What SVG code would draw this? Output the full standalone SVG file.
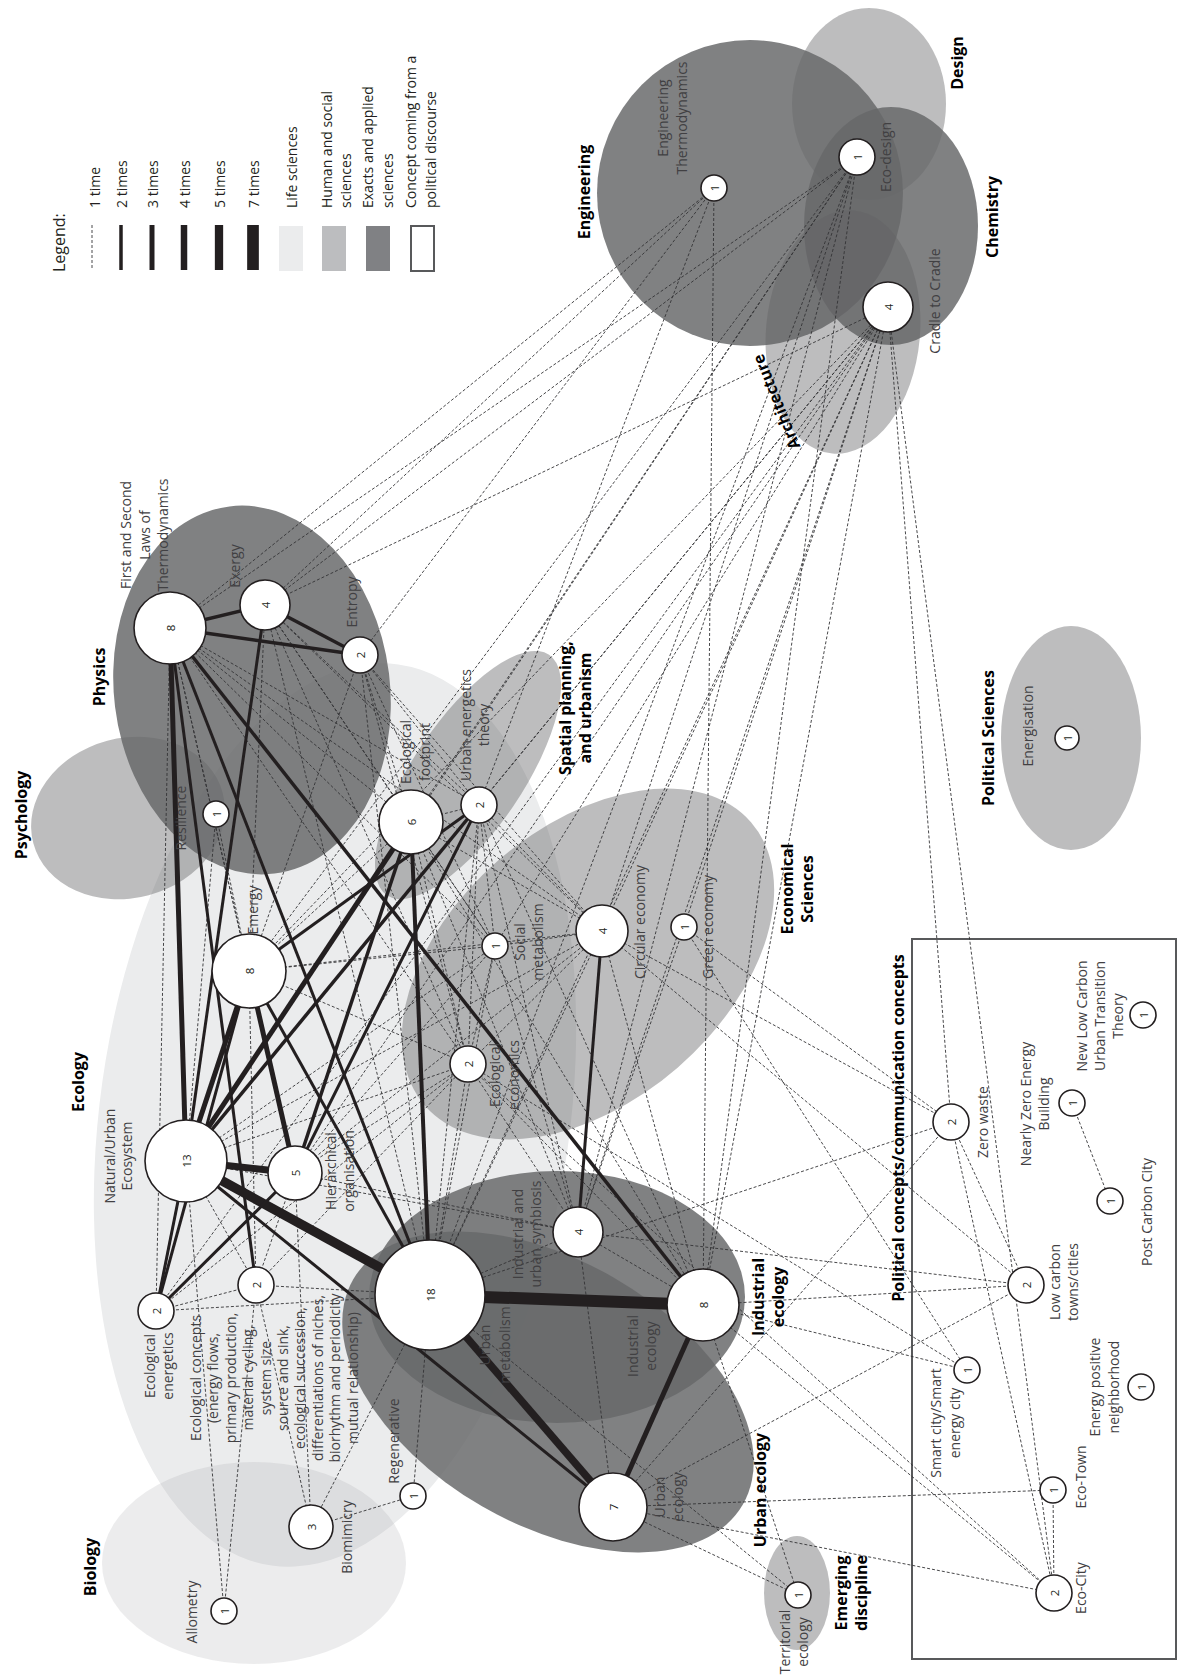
<svg xmlns="http://www.w3.org/2000/svg" width="1177" height="1675" viewBox="0 0 1177 1675">
<style>
.lbl{font-family:'Open Sans','Noto Sans',sans-serif;font-size:14px;fill:#414042;text-anchor:middle}
.dis{font-family:'Open Sans','Noto Sans',sans-serif;font-size:16px;font-weight:700;fill:#000;text-anchor:middle}
.lgt{font-family:'Open Sans','Noto Sans',sans-serif;font-size:14px;fill:#231f20;text-anchor:start}
.num{font-family:'Open Sans','Noto Sans',sans-serif;font-size:11.5px;fill:#231f20;text-anchor:middle;dominant-baseline:central}
.nd{fill:#fff;stroke:#231f20;stroke-width:1.6}
.d{stroke:#333335;stroke-width:0.9;stroke-dasharray:3 2;fill:none}
.s{stroke:#231f20;fill:none}
.dk{fill:#676869;fill-opacity:0.835}
.lg{fill:#616263;fill-opacity:0.42}
.lf{fill:#ebeced}
.bi{fill:#a5a6a8;fill-opacity:0.21}
</style>
<rect width="1177" height="1675" fill="#fff"/>

<g id="regions">
<ellipse class="lf" cx="335" cy="1115" rx="235" ry="455" transform="rotate(8 335 1115)"/>
<ellipse class="bi" cx="254" cy="1563" rx="152" ry="101"/>
<ellipse class="lg" cx="128" cy="818" rx="98" ry="80" transform="rotate(-15 128 818)"/>
<ellipse class="dk" cx="252" cy="690" rx="138" ry="185" transform="rotate(-7 252 690)"/>
<ellipse class="lg" cx="468" cy="775" rx="145" ry="55" transform="rotate(-56 468 775)"/>
<ellipse class="lg" cx="588" cy="964" rx="216" ry="137" transform="rotate(-41 588 964)"/>
<ellipse class="lg" cx="1071" cy="738" rx="70" ry="112"/>
<ellipse class="dk" cx="557" cy="1297" rx="188" ry="126"/>
<ellipse class="dk" cx="548" cy="1392" rx="225" ry="132" transform="rotate(30 548 1392)"/>
<ellipse class="lg" cx="797" cy="1593" rx="33" ry="57"/>
<ellipse class="lg" cx="869" cy="104" rx="77" ry="96"/>
<circle class="dk" cx="750" cy="193" r="153"/>
<ellipse class="dk" cx="891" cy="226" rx="87" ry="119"/>
<ellipse class="lg" cx="843" cy="332" rx="77" ry="122" transform="rotate(5 843 332)"/>
<rect x="912" y="939" width="264" height="720" fill="none" stroke="#58595b" stroke-width="2"/>
</g>

<g id="discipline-labels">
<text class="dis" transform="translate(590,192) rotate(-90)">Engineering</text>
<text class="dis" transform="translate(963,63) rotate(-90)">Design</text>
<text class="dis" transform="translate(998,217) rotate(-90)">Chemistry</text>
<text class="dis" dominant-baseline="central" transform="translate(776,402) rotate(-112)">Architecture</text>
<text class="dis" transform="translate(105,677) rotate(-90)">Physics</text>
<text class="dis" transform="translate(27,815) rotate(-90)">Psychology</text>
<text class="dis" transform="translate(571,708) rotate(-90)"><tspan x="0" y="0">Spatial planning,</tspan><tspan x="0" y="20">and urbanism</tspan></text>
<text class="dis" transform="translate(793,889) rotate(-90)"><tspan x="0" y="0">Economical</tspan><tspan x="0" y="20">Sciences</tspan></text>
<text class="dis" transform="translate(994,738) rotate(-90)">Political Sciences</text>
<text class="dis" transform="translate(84,1082) rotate(-90)">Ecology</text>
<text class="dis" transform="translate(96,1567) rotate(-90)">Biology</text>
<text class="dis" transform="translate(764,1297) rotate(-90)"><tspan x="0" y="0">Industrial</tspan><tspan x="0" y="20">ecology</tspan></text>
<text class="dis" transform="translate(766,1490) rotate(-90)">Urban ecology</text>
<text class="dis" transform="translate(847,1593) rotate(-90)"><tspan x="0" y="0">Emerging</tspan><tspan x="0" y="20">discipline</tspan></text>
<text class="dis" transform="translate(904,1128) rotate(-90)">Political concepts/communication concepts</text>
</g>

<g id="legend">
<text class="lgt" style="font-size:16px" transform="translate(65,272) rotate(-90)">Legend:</text>
<line class="d" x1="92" y1="225" x2="92" y2="270"/>
<line class="s" x1="121" y1="225" x2="121" y2="270" stroke-width="3.5"/>
<line class="s" x1="152" y1="225" x2="152" y2="270" stroke-width="5"/>
<line class="s" x1="184" y1="225" x2="184" y2="270" stroke-width="6.5"/>
<line class="s" x1="219" y1="225" x2="219" y2="270" stroke-width="8.3"/>
<line class="s" x1="253" y1="225" x2="253" y2="270" stroke-width="11.7"/>
<rect x="279" y="226" width="24" height="45" fill="#ebeced"/>
<rect x="322" y="226" width="24" height="45" fill="#bcbdbf"/>
<rect x="366" y="226" width="24" height="45" fill="#808184"/>
<rect x="411" y="226" width="23" height="45" fill="#fff" stroke="#58595b" stroke-width="2"/>
<text class="lgt" transform="translate(100,208) rotate(-90)">1 time</text>
<text class="lgt" transform="translate(127,208) rotate(-90)">2 times</text>
<text class="lgt" transform="translate(158,208) rotate(-90)">3 times</text>
<text class="lgt" transform="translate(190,208) rotate(-90)">4 times</text>
<text class="lgt" transform="translate(225,208) rotate(-90)">5 times</text>
<text class="lgt" transform="translate(259,208) rotate(-90)">7 times</text>
<text class="lgt" transform="translate(297,208) rotate(-90)">Life sciences</text>
<text class="lgt" transform="translate(332,208) rotate(-90)"><tspan x="0" y="0">Human and social</tspan><tspan x="0" y="19">sciences</tspan></text>
<text class="lgt" transform="translate(373,208) rotate(-90)"><tspan x="0" y="0">Exacts and applied</tspan><tspan x="0" y="20">sciences</tspan></text>
<text class="lgt" transform="translate(416,208) rotate(-90)"><tspan x="0" y="0">Concept coming from a</tspan><tspan x="0" y="20">political discourse</tspan></text>
</g>

<g id="connectors">
<g class="d">
<line x1="714" y1="188" x2="170" y2="628"/>
<line x1="714" y1="188" x2="265" y2="605"/>
<line x1="714" y1="188" x2="360" y2="655"/>
<line x1="714" y1="188" x2="703" y2="1305"/>
<line x1="714" y1="188" x2="479" y2="805"/>
<line x1="857" y1="157" x2="170" y2="628"/>
<line x1="857" y1="157" x2="265" y2="605"/>
<line x1="857" y1="157" x2="186" y2="1161"/>
<line x1="857" y1="157" x2="249" y2="971"/>
<line x1="857" y1="157" x2="430" y2="1295"/>
<line x1="857" y1="157" x2="578" y2="1232"/>
<line x1="857" y1="157" x2="703" y2="1305"/>
<line x1="857" y1="157" x2="602" y2="931"/>
<line x1="857" y1="157" x2="411" y2="822"/>
<line x1="888" y1="307" x2="265" y2="605"/>
<line x1="888" y1="307" x2="249" y2="971"/>
<line x1="888" y1="307" x2="186" y2="1161"/>
<line x1="888" y1="307" x2="156" y2="1311"/>
<line x1="888" y1="307" x2="295" y2="1173"/>
<line x1="888" y1="307" x2="430" y2="1295"/>
<line x1="888" y1="307" x2="602" y2="931"/>
<line x1="888" y1="307" x2="578" y2="1232"/>
<line x1="888" y1="307" x2="703" y2="1305"/>
<line x1="888" y1="307" x2="951" y2="1122"/>
<line x1="888" y1="307" x2="1054" y2="1593"/>
<line x1="888" y1="307" x2="479" y2="805"/>
<line x1="888" y1="307" x2="495" y2="946"/>
<line x1="888" y1="307" x2="684" y2="927"/>
<line x1="170" y1="628" x2="156" y2="1311"/>
<line x1="170" y1="628" x2="411" y2="822"/>
<line x1="170" y1="628" x2="479" y2="805"/>
<line x1="170" y1="628" x2="495" y2="946"/>
<line x1="170" y1="628" x2="468" y2="1064"/>
<line x1="170" y1="628" x2="295" y2="1173"/>
<line x1="170" y1="628" x2="249" y2="971"/>
<line x1="170" y1="628" x2="602" y2="931"/>
<line x1="265" y1="605" x2="411" y2="822"/>
<line x1="265" y1="605" x2="479" y2="805"/>
<line x1="265" y1="605" x2="249" y2="971"/>
<line x1="265" y1="605" x2="495" y2="946"/>
<line x1="265" y1="605" x2="430" y2="1295"/>
<line x1="265" y1="605" x2="602" y2="931"/>
<line x1="265" y1="605" x2="468" y2="1064"/>
<line x1="360" y1="655" x2="411" y2="822"/>
<line x1="360" y1="655" x2="479" y2="805"/>
<line x1="360" y1="655" x2="249" y2="971"/>
<line x1="360" y1="655" x2="430" y2="1295"/>
<line x1="360" y1="655" x2="468" y2="1064"/>
<line x1="360" y1="655" x2="602" y2="931"/>
<line x1="360" y1="655" x2="495" y2="946"/>
<line x1="216" y1="814" x2="186" y2="1161"/>
<line x1="216" y1="814" x2="249" y2="971"/>
<line x1="249" y1="971" x2="468" y2="1064"/>
<line x1="249" y1="971" x2="495" y2="946"/>
<line x1="249" y1="971" x2="602" y2="931"/>
<line x1="249" y1="971" x2="411" y2="822"/>
<line x1="249" y1="971" x2="256" y2="1285"/>
<line x1="186" y1="1161" x2="468" y2="1064"/>
<line x1="186" y1="1161" x2="495" y2="946"/>
<line x1="186" y1="1161" x2="602" y2="931"/>
<line x1="186" y1="1161" x2="578" y2="1232"/>
<line x1="186" y1="1161" x2="256" y2="1285"/>
<line x1="295" y1="1173" x2="468" y2="1064"/>
<line x1="295" y1="1173" x2="602" y2="931"/>
<line x1="295" y1="1173" x2="495" y2="946"/>
<line x1="295" y1="1173" x2="256" y2="1285"/>
<line x1="295" y1="1173" x2="578" y2="1232"/>
<line x1="156" y1="1311" x2="430" y2="1295"/>
<line x1="156" y1="1311" x2="256" y2="1285"/>
<line x1="156" y1="1311" x2="468" y2="1064"/>
<line x1="256" y1="1285" x2="430" y2="1295"/>
<line x1="256" y1="1285" x2="468" y2="1064"/>
<line x1="256" y1="1285" x2="311" y2="1527"/>
<line x1="256" y1="1285" x2="224" y2="1611"/>
<line x1="468" y1="1064" x2="430" y2="1295"/>
<line x1="468" y1="1064" x2="578" y2="1232"/>
<line x1="468" y1="1064" x2="495" y2="946"/>
<line x1="468" y1="1064" x2="602" y2="931"/>
<line x1="468" y1="1064" x2="411" y2="822"/>
<line x1="468" y1="1064" x2="479" y2="805"/>
<line x1="468" y1="1064" x2="703" y2="1305"/>
<line x1="495" y1="946" x2="602" y2="931"/>
<line x1="495" y1="946" x2="411" y2="822"/>
<line x1="495" y1="946" x2="479" y2="805"/>
<line x1="495" y1="946" x2="430" y2="1295"/>
<line x1="495" y1="946" x2="578" y2="1232"/>
<line x1="602" y1="931" x2="411" y2="822"/>
<line x1="602" y1="931" x2="479" y2="805"/>
<line x1="602" y1="931" x2="430" y2="1295"/>
<line x1="602" y1="931" x2="703" y2="1305"/>
<line x1="684" y1="927" x2="578" y2="1232"/>
<line x1="684" y1="927" x2="967" y2="1370"/>
<line x1="684" y1="927" x2="951" y2="1122"/>
<line x1="411" y1="822" x2="479" y2="805"/>
<line x1="411" y1="822" x2="578" y2="1232"/>
<line x1="411" y1="822" x2="703" y2="1305"/>
<line x1="479" y1="805" x2="430" y2="1295"/>
<line x1="479" y1="805" x2="578" y2="1232"/>
<line x1="479" y1="805" x2="703" y2="1305"/>
<line x1="430" y1="1295" x2="413" y2="1496"/>
<line x1="430" y1="1295" x2="311" y2="1527"/>
<line x1="430" y1="1295" x2="798" y2="1595"/>
<line x1="430" y1="1295" x2="578" y2="1232"/>
<line x1="578" y1="1232" x2="703" y2="1305"/>
<line x1="578" y1="1232" x2="613" y2="1507"/>
<line x1="613" y1="1507" x2="798" y2="1595"/>
<line x1="613" y1="1507" x2="1053" y2="1490"/>
<line x1="613" y1="1507" x2="1054" y2="1593"/>
<line x1="613" y1="1507" x2="1026" y2="1285"/>
<line x1="311" y1="1527" x2="413" y2="1496"/>
<line x1="311" y1="1527" x2="295" y2="1173"/>
<line x1="224" y1="1611" x2="186" y2="1161"/>
<line x1="703" y1="1305" x2="798" y2="1595"/>
<line x1="703" y1="1305" x2="1054" y2="1593"/>
<line x1="951" y1="1122" x2="602" y2="931"/>
<line x1="951" y1="1122" x2="430" y2="1295"/>
<line x1="951" y1="1122" x2="613" y2="1507"/>
<line x1="951" y1="1122" x2="1026" y2="1285"/>
<line x1="951" y1="1122" x2="1054" y2="1593"/>
<line x1="1026" y1="1285" x2="602" y2="931"/>
<line x1="1026" y1="1285" x2="578" y2="1232"/>
<line x1="1026" y1="1285" x2="703" y2="1305"/>
<line x1="967" y1="1370" x2="468" y2="1064"/>
<line x1="967" y1="1370" x2="703" y2="1305"/>
<line x1="1054" y1="1593" x2="1053" y2="1490"/>
<line x1="1054" y1="1593" x2="468" y2="1064"/>
<line x1="1072" y1="1103" x2="1110" y2="1201"/>
</g>
<g class="s">
<line x1="170" y1="628" x2="265" y2="605" stroke-width="3.5"/>
<line x1="170" y1="628" x2="360" y2="655" stroke-width="3.5"/>
<line x1="265" y1="605" x2="360" y2="655" stroke-width="3.5"/>
<line x1="170" y1="628" x2="186" y2="1161" stroke-width="5"/>
<line x1="170" y1="628" x2="256" y2="1285" stroke-width="3"/>
<line x1="170" y1="628" x2="430" y2="1295" stroke-width="3"/>
<line x1="170" y1="628" x2="703" y2="1305" stroke-width="3.5"/>
<line x1="265" y1="605" x2="186" y2="1161" stroke-width="3"/>
<line x1="249" y1="971" x2="186" y2="1161" stroke-width="5"/>
<line x1="186" y1="1161" x2="295" y2="1173" stroke-width="7"/>
<line x1="186" y1="1161" x2="430" y2="1295" stroke-width="9.5"/>
<line x1="186" y1="1161" x2="156" y2="1311" stroke-width="3"/>
<line x1="249" y1="971" x2="156" y2="1311" stroke-width="3"/>
<line x1="156" y1="1311" x2="295" y2="1173" stroke-width="3"/>
<line x1="186" y1="1161" x2="411" y2="822" stroke-width="5"/>
<line x1="186" y1="1161" x2="479" y2="805" stroke-width="3.5"/>
<line x1="249" y1="971" x2="295" y2="1173" stroke-width="5"/>
<line x1="249" y1="971" x2="430" y2="1295" stroke-width="3"/>
<line x1="249" y1="971" x2="479" y2="805" stroke-width="3"/>
<line x1="479" y1="805" x2="295" y2="1173" stroke-width="3"/>
<line x1="411" y1="822" x2="295" y2="1173" stroke-width="3.5"/>
<line x1="411" y1="822" x2="430" y2="1295" stroke-width="4"/>
<line x1="430" y1="1295" x2="703" y2="1305" stroke-width="12"/>
<line x1="430" y1="1295" x2="613" y2="1507" stroke-width="7.5"/>
<line x1="186" y1="1161" x2="613" y2="1507" stroke-width="3"/>
<line x1="703" y1="1305" x2="613" y2="1507" stroke-width="5"/>
<line x1="602" y1="931" x2="578" y2="1232" stroke-width="3"/>
</g>
</g>

<g id="n-fl"><circle class="nd" cx="170" cy="628" r="36"/><text class="num" transform="translate(170,628) rotate(-90)">8</text>
<text class="lbl" transform="translate(131,535) rotate(-90)"><tspan x="0" y="0">First and Second</tspan><tspan x="0" y="18.5">Laws of</tspan><tspan x="0" y="37">Thermodynamics</tspan></text></g>
<g id="n-exergy"><circle class="nd" cx="265" cy="605" r="25"/><text class="num" transform="translate(265,605) rotate(-90)">4</text>
<text class="lbl" transform="translate(240,566) rotate(-90)">Exergy</text></g>
<g id="n-entropy"><circle class="nd" cx="360" cy="655" r="18"/><text class="num" transform="translate(360,655) rotate(-90)">2</text>
<text class="lbl" transform="translate(357,602) rotate(-90)">Entropy</text></g>
<g id="n-resilience"><circle class="nd" cx="216" cy="814" r="13"/><text class="num" transform="translate(216,814) rotate(-90)">1</text>
<text class="lbl" transform="translate(186,818) rotate(-90)">Resilience</text></g>
<g id="n-footprint"><circle class="nd" cx="411" cy="822" r="32"/><text class="num" transform="translate(411,822) rotate(-90)">6</text>
<text class="lbl" transform="translate(411,752) rotate(-90)"><tspan x="0" y="0">Ecological</tspan><tspan x="0" y="19">footprint</tspan></text></g>
<g id="n-uet"><circle class="nd" cx="479" cy="805" r="18"/><text class="num" transform="translate(479,805) rotate(-90)">2</text>
<text class="lbl" transform="translate(471,725) rotate(-90)"><tspan x="0" y="0">Urban energetics</tspan><tspan x="0" y="18">theory</tspan></text></g>
<g id="n-emergy"><circle class="nd" cx="249" cy="971" r="37"/><text class="num" transform="translate(249,971) rotate(-90)">8</text>
<text class="lbl" transform="translate(258,910) rotate(-90)">Emergy</text></g>
<g id="n-social"><circle class="nd" cx="495" cy="946" r="13"/><text class="num" transform="translate(495,946) rotate(-90)">1</text>
<text class="lbl" transform="translate(525,942) rotate(-90)"><tspan x="0" y="0">Social</tspan><tspan x="0" y="18">metabolism</tspan></text></g>
<g id="n-circular"><circle class="nd" cx="602" cy="931" r="26"/><text class="num" transform="translate(602,931) rotate(-90)">4</text>
<text class="lbl" transform="translate(645,922) rotate(-90)">Circular economy</text></g>
<g id="n-green"><circle class="nd" cx="684" cy="927" r="13"/><text class="num" transform="translate(684,927) rotate(-90)">1</text>
<text class="lbl" transform="translate(713,927) rotate(-90)">Green economy</text></g>
<g id="n-ecosystem"><circle class="nd" cx="186" cy="1161" r="41"/><text class="num" transform="translate(186,1161) rotate(-90)">13</text>
<text class="lbl" transform="translate(115,1156) rotate(-90)"><tspan x="0" y="0">Natural/Urban</tspan><tspan x="0" y="17">Ecosystem</tspan></text></g>
<g id="n-hier"><circle class="nd" cx="295" cy="1173" r="27"/><text class="num" transform="translate(295,1173) rotate(-90)">5</text>
<text class="lbl" transform="translate(336,1171) rotate(-90)"><tspan x="0" y="0">Hierarchical</tspan><tspan x="0" y="18">organisation</tspan></text></g>
<g id="n-ecoecon"><circle class="nd" cx="468" cy="1064" r="18"/><text class="num" transform="translate(468,1064) rotate(-90)">2</text>
<text class="lbl" transform="translate(500,1075) rotate(-90)"><tspan x="0" y="0">Ecological</tspan><tspan x="0" y="19">economics</tspan></text></g>
<g id="n-ecoenerg"><circle class="nd" cx="156" cy="1311" r="18"/><text class="num" transform="translate(156,1311) rotate(-90)">2</text>
<text class="lbl" transform="translate(155,1366) rotate(-90)"><tspan x="0" y="0">Ecological</tspan><tspan x="0" y="18">energetics</tspan></text></g>
<g id="n-ecoconcepts"><circle class="nd" cx="256" cy="1285" r="18"/><text class="num" transform="translate(256,1285) rotate(-90)">2</text>
<text class="lbl" transform="translate(201,1378) rotate(-90)"><tspan x="0" y="0">Ecological concepts</tspan><tspan x="0" y="17.4">(energy flows,</tspan><tspan x="0" y="34.8">primary production,</tspan><tspan x="0" y="52.2">material cycling,</tspan><tspan x="0" y="69.6">system size</tspan><tspan x="0" y="87">source and sink,</tspan><tspan x="0" y="104.4">ecological succession,</tspan><tspan x="0" y="121.8">differentiations of niches,</tspan><tspan x="0" y="139.2">biorhythm and periodicity</tspan><tspan x="0" y="156.6">mutual relationship)</tspan></text></g>
<g id="n-urbanmetab"><circle class="nd" cx="430" cy="1295" r="55"/><text class="num" transform="translate(430,1295) rotate(-90)">18</text>
<text class="lbl" transform="translate(490,1345) rotate(-90)"><tspan x="0" y="0">Urban</tspan><tspan x="0" y="20">metabolism</tspan></text></g>
<g id="n-symbiosis"><circle class="nd" cx="578" cy="1232" r="25"/><text class="num" transform="translate(578,1232) rotate(-90)">4</text>
<text class="lbl" transform="translate(523,1234) rotate(-90)"><tspan x="0" y="0">Industrial and</tspan><tspan x="0" y="18">urban symbiosis</tspan></text></g>
<g id="n-indeco"><circle class="nd" cx="703" cy="1305" r="36"/><text class="num" transform="translate(703,1305) rotate(-90)">8</text>
<text class="lbl" transform="translate(638,1346) rotate(-90)"><tspan x="0" y="0">Industrial</tspan><tspan x="0" y="18">ecology</tspan></text></g>
<g id="n-urbeco"><circle class="nd" cx="613" cy="1507" r="34"/><text class="num" transform="translate(613,1507) rotate(-90)">7</text>
<text class="lbl" transform="translate(665,1497) rotate(-90)"><tspan x="0" y="0">Urban</tspan><tspan x="0" y="18">ecology</tspan></text></g>
<g id="n-regen"><circle class="nd" cx="413" cy="1496" r="13"/><text class="num" transform="translate(413,1496) rotate(-90)">1</text>
<text class="lbl" transform="translate(399,1441) rotate(-90)">Regenerative</text></g>
<g id="n-biomim"><circle class="nd" cx="311" cy="1527" r="22"/><text class="num" transform="translate(311,1527) rotate(-90)">3</text>
<text class="lbl" transform="translate(352,1537) rotate(-90)">Biomimicry</text></g>
<g id="n-allometry"><circle class="nd" cx="224" cy="1611" r="13"/><text class="num" transform="translate(224,1611) rotate(-90)">1</text>
<text class="lbl" transform="translate(197,1612) rotate(-90)">Allometry</text></g>
<g id="n-territorial"><circle class="nd" cx="798" cy="1595" r="13"/><text class="num" transform="translate(798,1595) rotate(-90)">1</text>
<text class="lbl" transform="translate(790,1642) rotate(-90)"><tspan x="0" y="0">Territorial</tspan><tspan x="0" y="18">ecology</tspan></text></g>
<g id="n-engthermo"><circle class="nd" cx="714" cy="188" r="13"/><text class="num" transform="translate(714,188) rotate(-90)">1</text>
<text class="lbl" transform="translate(668,118) rotate(-90)"><tspan x="0" y="0">Engineering</tspan><tspan x="0" y="18.5">Thermodynamics</tspan></text></g>
<g id="n-ecodesign"><circle class="nd" cx="857" cy="157" r="18"/><text class="num" transform="translate(857,157) rotate(-90)">1</text>
<text class="lbl" transform="translate(891,157) rotate(-90)">Eco-design</text></g>
<g id="n-c2c"><circle class="nd" cx="888" cy="307" r="25"/><text class="num" transform="translate(888,307) rotate(-90)">4</text>
<text class="lbl" transform="translate(940,301) rotate(-90)">Cradle to Cradle</text></g>
<g id="n-energisation"><circle class="nd" cx="1067" cy="738" r="12"/><text class="num" transform="translate(1067,738) rotate(-90)">1</text>
<text class="lbl" transform="translate(1033,726) rotate(-90)">Energisation</text></g>
<g id="n-zerowaste"><circle class="nd" cx="951" cy="1122" r="18"/><text class="num" transform="translate(951,1122) rotate(-90)">2</text>
<text class="lbl" transform="translate(988,1122) rotate(-90)">Zero waste</text></g>
<g id="n-nzeb"><circle class="nd" cx="1072" cy="1103" r="13"/><text class="num" transform="translate(1072,1103) rotate(-90)">1</text>
<text class="lbl" transform="translate(1031,1104) rotate(-90)"><tspan x="0" y="0">Nearly Zero Energy</tspan><tspan x="0" y="18">Building</tspan></text></g>
<g id="n-nlc"><circle class="nd" cx="1143" cy="1015" r="13"/><text class="num" transform="translate(1143,1015) rotate(-90)">1</text>
<text class="lbl" transform="translate(1087,1016) rotate(-90)"><tspan x="0" y="0">New Low Carbon</tspan><tspan x="0" y="18">Urban Transition</tspan><tspan x="0" y="36">Theory</tspan></text></g>
<g id="n-postcarbon"><circle class="nd" cx="1110" cy="1201" r="13"/><text class="num" transform="translate(1110,1201) rotate(-90)">1</text>
<text class="lbl" transform="translate(1152,1212) rotate(-90)">Post Carbon City</text></g>
<g id="n-lowcarbon"><circle class="nd" cx="1026" cy="1285" r="18"/><text class="num" transform="translate(1026,1285) rotate(-90)">2</text>
<text class="lbl" transform="translate(1060,1282) rotate(-90)"><tspan x="0" y="0">Low carbon</tspan><tspan x="0" y="18">towns/cities</tspan></text></g>
<g id="n-smart"><circle class="nd" cx="967" cy="1370" r="13"/><text class="num" transform="translate(967,1370) rotate(-90)">1</text>
<text class="lbl" transform="translate(941,1423) rotate(-90)"><tspan x="0" y="0">Smart city/Smart</tspan><tspan x="0" y="19">energy city</tspan></text></g>
<g id="n-epn"><circle class="nd" cx="1141" cy="1387" r="13"/><text class="num" transform="translate(1141,1387) rotate(-90)">1</text>
<text class="lbl" transform="translate(1100,1387) rotate(-90)"><tspan x="0" y="0">Energy positive</tspan><tspan x="0" y="19">neighborhood</tspan></text></g>
<g id="n-ecotown"><circle class="nd" cx="1053" cy="1490" r="13"/><text class="num" transform="translate(1053,1490) rotate(-90)">1</text>
<text class="lbl" transform="translate(1086,1477) rotate(-90)">Eco-Town</text></g>
<g id="n-ecocity"><circle class="nd" cx="1054" cy="1593" r="18"/><text class="num" transform="translate(1054,1593) rotate(-90)">2</text>
<text class="lbl" transform="translate(1086,1588) rotate(-90)">Eco-City</text></g>
</svg>
